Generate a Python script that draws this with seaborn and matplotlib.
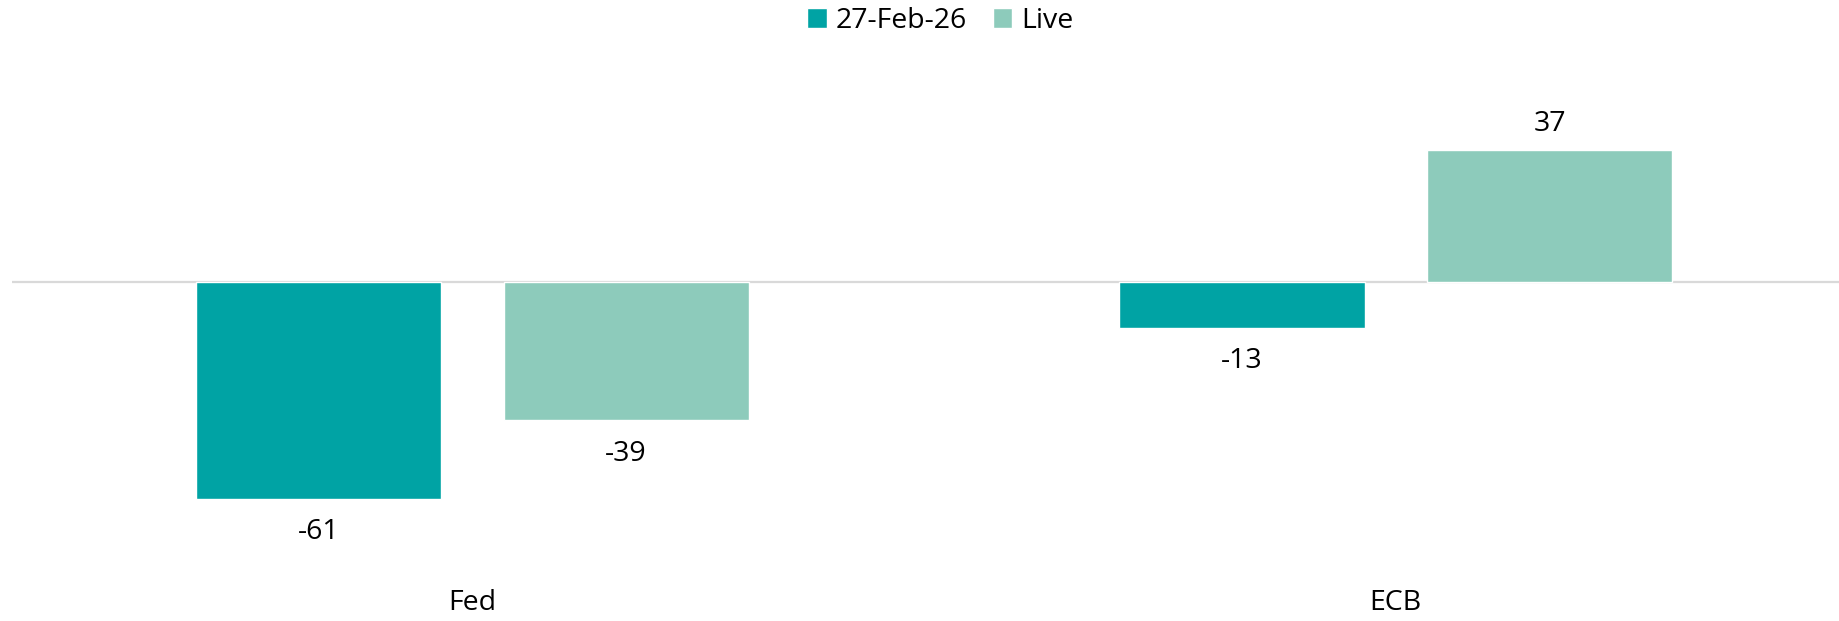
import matplotlib
matplotlib.use("Agg")
import matplotlib.pyplot as plt
import seaborn as sns
import pandas as pd

categories = ["Fed", "ECB"]
series_names = ["27-Feb-26", "Live"]
values_feb = [-61, -13]
values_live = [-39, 37]
colors = ["#00A3A4", "#8DCBBB"]

df = pd.DataFrame({
    "bank": categories * 2,
    "series": [series_names[0]] * len(categories) + [series_names[1]] * len(categories),
    "value": values_feb + values_live,
})

sns.set_theme(style="white")
plt.rcParams["font.family"] = ["Open Sans", "DejaVu Sans"]

FS = 20.5

fig = plt.figure(figsize=(18.4, 6.21), dpi=100)
ax = fig.add_axes([0.0064, 0.0644, 1 - 0.0064, 0.9055 - 0.0644])

sns.barplot(data=df, x="bank", y="value", hue="series", order=categories,
            hue_order=series_names, palette=colors, width=0.666, gap=0.203,
            saturation=1, ax=ax, legend=True, errorbar=None)

ax.axhline(0, color="#D9D9D9", lw=1.6, zorder=0)
ax.set_xlim(-0.4987, 1.481)
ax.set_ylim(-84.2, 62.7)

for cont in ax.containers:
    for rect in cont:
        v = rect.get_height()
        x = rect.get_x() + rect.get_width() / 2
        off = 19 if v >= 0 else -24
        ax.annotate(f"{v:.0f}", (x, v), xytext=(0, off), textcoords="offset points",
                    ha="center", va="center", fontsize=FS, color="black")

ax.set_xlabel("")
ax.set_ylabel("")
ax.set_yticks([])
ax.tick_params(axis="x", length=0, pad=6, labelsize=FS, labelcolor="black")
for s in ax.spines.values():
    s.set_visible(False)

handles, labels = ax.get_legend_handles_labels()
ax.get_legend().remove()
fig.legend(handles, labels, loc="center", bbox_to_anchor=(0.511, 0.966), ncol=2,
           frameon=False, fontsize=FS, handlelength=0.7, handleheight=0.7,
           handletextpad=0.3, columnspacing=0.9, labelcolor="black")

fig.savefig("out.png", dpi=100)
